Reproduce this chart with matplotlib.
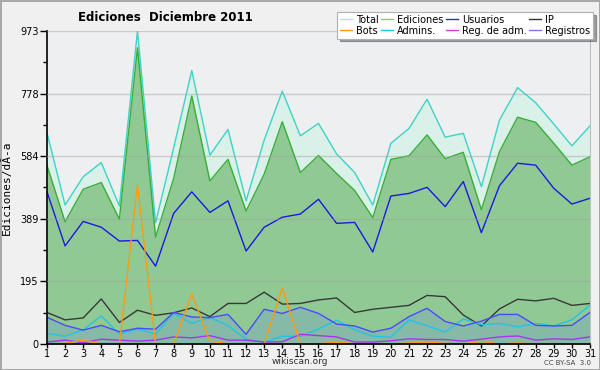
import matplotlib
matplotlib.use("Agg")
import matplotlib.pyplot as plt
from matplotlib.lines import Line2D

dias = list(range(1, 32))

total = [657, 432, 520, 564, 429, 973, 377, 610, 850, 587, 667, 445, 634, 786, 647, 686,
         591, 533, 432, 624, 670, 761, 643, 655, 489, 696, 797, 750, 684, 616, 678]
ediciones = [555, 380, 481, 502, 388, 921, 332, 515, 771, 507, 574, 413, 528, 691, 533, 586,
             530, 477, 393, 574, 585, 650, 576, 596, 417, 598, 705, 689, 624, 556, 582]
usuarios = [473, 305, 381, 363, 320, 322, 242, 406, 473, 409, 445, 289, 363, 394, 404, 450,
            375, 378, 286, 460, 468, 487, 427, 505, 346, 492, 562, 556, 484, 435, 453]
ip = [98, 75, 81, 140, 67, 105, 89, 97, 112, 85, 126, 126, 161, 124, 126, 137,
      143, 98, 108, 114, 120, 151, 147, 90, 56, 109, 139, 134, 142, 120, 126]
bots = [0, 2, 12, 0, 0, 494, 0, 0, 155, 9, 0, 0, 0, 175, 0, 0,
        6, 0, 0, 0, 3, 6, 2, 0, 8, 0, 3, 0, 0, 0, 0]
admins = [33, 24, 44, 87, 31, 46, 31, 95, 64, 82, 57, 15, 5, 24, 24, 47,
          74, 44, 24, 21, 75, 57, 37, 78, 60, 64, 53, 64, 56, 75, 121]
reg_adm = [6, 12, 4, 15, 12, 9, 12, 22, 19, 26, 12, 12, 6, 7, 30, 26,
           22, 6, 6, 10, 16, 14, 14, 9, 15, 22, 25, 12, 16, 14, 22]
registros = [83, 58, 43, 58, 38, 49, 46, 98, 84, 82, 92, 30, 108, 95, 114, 95,
             62, 56, 37, 49, 85, 111, 70, 56, 71, 92, 92, 58, 56, 58, 98]

yticks = [0, 195, 389, 584, 778, 973]

fig = plt.figure(figsize=(6, 3.7), dpi=100, facecolor='#f0f0f0',
                 edgecolor='#a8a8a8', linewidth=2)
ax = fig.add_axes([0.0783, 0.0703, 0.905, 0.8459])
ax.set_facecolor('#eeeff1')

# areas
ax.fill_between(dias, total, 0, color='#d9f1e8', lw=0)
ax.plot(dias, total, color='#3fd3c6', lw=1)
ax.fill_between(dias, ediciones, 0, color='#91c995', lw=0)
ax.plot(dias, ediciones, color='#38ae38', lw=1)
ax.fill_between(dias, registros, 0, color='#86b9a6', lw=0)

ax.plot(dias, usuarios, color='#1a1ae0', lw=1)
ax.plot(dias, ip, color='#383838', lw=1)
ax.plot(dias, admins, color='#22c4e6', lw=1)
ax.plot(dias, reg_adm, color='#aa33ee', lw=1)
ax.plot(dias, registros, color='#4a4aff', lw=1)
ax.plot(dias, bots, color='#ff9a10', lw=1)

for v in yticks[1:]:
    ax.axhline(v, color='#a0a0a0', lw=1, alpha=0.45, zorder=5)

ax.set_xlim(1, 31)
ax.set_ylim(0, 973)
ax.set_xticks(dias)
ax.set_yticks(yticks)
ax.set_yticks([97.5, 292, 486.5, 681, 875.5], minor=True)
ax.tick_params(axis='both', labelsize=7, direction='out', width=1)
ax.tick_params(axis='x', length=3, pad=0.5)
ax.tick_params(axis='y', length=5, pad=1)
ax.tick_params(axis='y', which='minor', length=3, width=1)
ax.spines['top'].set_visible(False)
ax.spines['right'].set_color('#c0c0c0')
ax.spines['left'].set_linewidth(1.2)
ax.spines['bottom'].set_linewidth(1.2)

ax.set_ylabel('Ediciones/dÃ-a', fontsize=8, family='DejaVu Sans Mono', labelpad=6)

fig.text(0.275, 0.952, 'Ediciones  Diciembre 2011', fontsize=8.5, fontweight='bold',
         ha='center', va='center')
fig.text(0.5, 0.022, 'wikiscan.org', fontsize=6.5, ha='center', va='center', color='#333333')
fig.text(0.985, 0.02, 'CC BY-SA  3.0', fontsize=5, ha='right', va='center', color='#444444')

handles = [
    Line2D([], [], color='#a8e8e0', lw=1), Line2D([], [], color='#ff9a10', lw=1),
    Line2D([], [], color='#80cc80', lw=1), Line2D([], [], color='#22c4e6', lw=1),
    Line2D([], [], color='#2a2ae0', lw=1), Line2D([], [], color='#cc44dd', lw=1),
    Line2D([], [], color='#333333', lw=1), Line2D([], [], color='#7777ee', lw=1),
]
labels = ['Total', 'Bots', 'Ediciones', 'Admins.', 'Usuarios', 'Reg. de adm.', 'IP', 'Registros']
leg = fig.legend(handles, labels, ncol=4, loc='upper right', bbox_to_anchor=(0.988, 0.968),
                 fontsize=7, frameon=True, fancybox=False, shadow=True,
                 handlelength=1.2, handletextpad=0.4, columnspacing=0.3,
                 labelspacing=0.1, borderpad=0.3, borderaxespad=0)
leg.get_frame().set_edgecolor('#b0b0b0')
leg.get_frame().set_linewidth(0.8)
leg.set_zorder(10)

fig.savefig('out.png', dpi=100, facecolor=fig.get_facecolor(), edgecolor=fig.get_edgecolor())
